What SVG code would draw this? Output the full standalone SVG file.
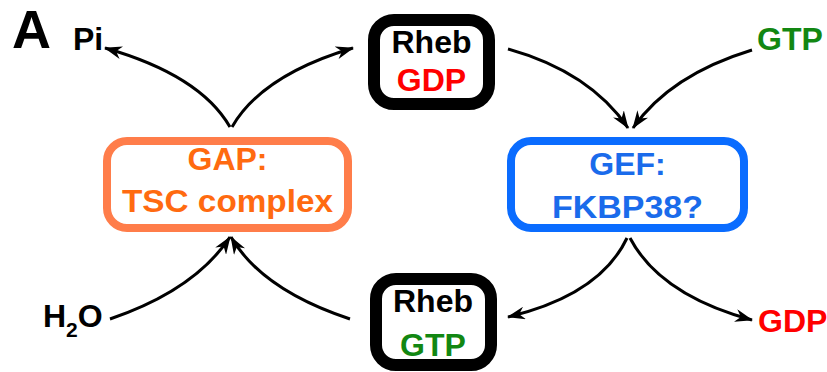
<svg xmlns="http://www.w3.org/2000/svg" width="827" height="372" viewBox="0 0 827 372">
<defs>
<marker id="ah" viewBox="0 0 18 13" refX="17" refY="6.5" markerWidth="18" markerHeight="13" markerUnits="userSpaceOnUse" orient="auto">
<path d="M0,0 L18,6.5 L0,13 L5.5,6.5 z" fill="#000"/>
</marker>
<style>
text{font-family:"Liberation Sans",Arial,sans-serif;font-weight:bold;font-size:32px}
.c{text-anchor:middle}
.rheb{fill:none;stroke:#000;stroke-width:12}
.arr{fill:none;stroke:#000;stroke-width:3;marker-end:url(#ah)}
.red{fill:#FF0000}
.green{fill:#128712}
.or{fill:#FF6A10}
.bl{fill:#1A6BEB}
</style>
</defs>
<rect width="827" height="372" fill="#fff"/>
<text x="12" y="48" style="font-size:54px">A</text>
<g id="pi"><text x="73" y="50">Pi</text></g>
<g id="gtp-top"><text x="757" y="50" class="green">GTP</text></g>
<g id="gdp-bottom"><text x="758" y="332" class="red">GDP</text></g>
<g id="h2o"><text x="43" y="327">H<tspan dy="10" style="font-size:21px">2</tspan><tspan dy="-10">O</tspan></text></g>
<g id="rheb-gdp">
<rect class="rheb" x="374" y="20" width="115" height="84" rx="20"/>
<text x="431.5" y="53" class="c">Rheb</text>
<text x="431.5" y="91" class="c red">GDP</text>
</g>
<g id="rheb-gtp">
<rect class="rheb" x="376" y="279" width="115" height="86" rx="20"/>
<text x="433" y="312" class="c">Rheb</text>
<text x="433" y="356" class="c green">GTP</text>
</g>
<g id="gap">
<rect x="107" y="141" width="241" height="87" rx="20" fill="none" stroke="#FF7D4A" stroke-width="8"/>
<text x="227.5" y="170" class="c or">GAP:</text>
<text x="227.5" y="212" class="c or" textLength="211" lengthAdjust="spacingAndGlyphs">TSC complex</text>
</g>
<g id="gef">
<rect x="511" y="141" width="233" height="87" rx="20" fill="none" stroke="#0A6CFF" stroke-width="8"/>
<text x="627.5" y="175" class="c bl">GEF:</text>
<text x="627.5" y="218" class="c bl" textLength="151" lengthAdjust="spacingAndGlyphs">FKBP38?</text>
</g>
<g id="connectors">
<path class="arr" d="M230,127 Q200,75 105,48"/>
<path class="arr" d="M232,127 Q262,75 353,48"/>
<path class="arr" d="M508,49 Q590,72 628,128"/>
<path class="arr" d="M752,50 Q670,75 633,128"/>
<path class="arr" d="M627,238 Q600,295 508,317"/>
<path class="arr" d="M630,238 Q660,295 752,320"/>
<path class="arr" d="M110,319 Q195,290 230,237"/>
<path class="arr" d="M350,319 Q262,290 231,237"/>
</g>
</svg>
